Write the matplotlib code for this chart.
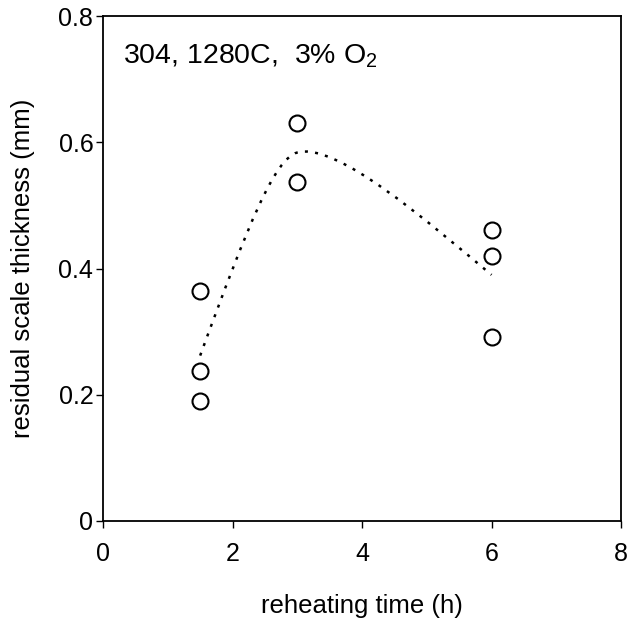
import matplotlib
matplotlib.use("Agg")
import matplotlib.pyplot as plt
from matplotlib.path import Path
from matplotlib.patches import PathPatch

plt.rcParams['font.family'] = ['Liberation Sans', 'DejaVu Sans']
plt.rcParams['mathtext.fontset'] = 'custom'
plt.rcParams['mathtext.rm'] = 'Liberation Sans'
plt.rcParams['mathtext.it'] = 'Liberation Sans:italic'

# measured points
time_h = [1.5, 1.5, 1.5, 3, 3, 6, 6, 6]
thickness_mm = [0.365, 0.238, 0.190, 0.630, 0.537, 0.461, 0.420, 0.291]

# trend line (smoothed through group means)
trend_x = [1.5, 3, 6]
trend_y = [0.262, 0.584, 0.390]

x_ticks = [0, 2, 4, 6, 8]
y_ticks = [0, 0.2, 0.4, 0.6, 0.8]
y_tick_labels = ['0', '0.2', '0.4', '0.6', '0.8']

fig = plt.figure(figsize=(6.29, 6.26), dpi=100)
ax = fig.add_axes([0.1638, 0.168, 0.8235, 0.806])

# smoothed trend curve drawn as cubic Bezier segments (Hermite form)
n = len(trend_x)
slopes = []
for i in range(n):
    if 0 < i < n - 1:
        slopes.append((trend_y[i + 1] - trend_y[i - 1]) / (trend_x[i + 1] - trend_x[i - 1]))
    else:
        slopes.append(None)
# natural-type end tangents, slightly relaxed
d0 = (trend_y[1] - trend_y[0]) / (trend_x[1] - trend_x[0])
dn = (trend_y[-1] - trend_y[-2]) / (trend_x[-1] - trend_x[-2])
slopes[0] = 0.91 * (3 * d0 - slopes[1]) / 2
slopes[-1] = 0.77 * (3 * dn - slopes[-2]) / 2
# handle lengths as fractions of the segment width (out of left knot, into right knot)
handle_out = [0.50, 0.20]
handle_in = [0.233, 0.333]

verts = [(trend_x[0], trend_y[0])]
codes = [Path.MOVETO]
for i in range(n - 1):
    h = trend_x[i + 1] - trend_x[i]
    a = handle_out[i] * h
    b = handle_in[i] * h
    c1 = (trend_x[i] + a, trend_y[i] + a * slopes[i])
    c2 = (trend_x[i + 1] - b, trend_y[i + 1] - b * slopes[i + 1])
    verts += [c1, c2, (trend_x[i + 1], trend_y[i + 1])]
    codes += [Path.CURVE4] * 3
patch = PathPatch(Path(verts, codes), facecolor='none', edgecolor='black',
                  linewidth=1.8, linestyle=(0, (1.2, 2.9)), capstyle='butt')
ax.add_patch(patch)

ax.plot(time_h, thickness_mm, linestyle='none', marker='o', markersize=11.5,
        markerfacecolor='white', markeredgecolor='black', markeredgewidth=1.5,
        zorder=3)

ax.set_xlim(0, 8)
ax.set_ylim(0, 0.8)
ax.set_xticks(x_ticks)
ax.set_xticklabels([str(t) for t in x_ticks])
ax.set_yticks(y_ticks)
ax.set_yticklabels(y_tick_labels)
ax.tick_params(axis='both', direction='out', length=5, width=1, labelsize=18,
               color='black')
ax.tick_params(axis='x', pad=10.5)
ax.tick_params(axis='y', pad=2)
for s in ax.spines.values():
    s.set_linewidth(1.3)
    s.set_color('black')

ax.set_xlabel('reheating time (h)', fontsize=18.5, labelpad=20)
ax.set_ylabel('residual scale thickness (mm)', fontsize=18.5, labelpad=17)

ax.text(0.31, 0.725, r'304, 1280C,  3% O$_2$', fontsize=20.5, ha='left',
        va='baseline', transform=ax.transData)

fig.savefig('out.png', dpi=100)
